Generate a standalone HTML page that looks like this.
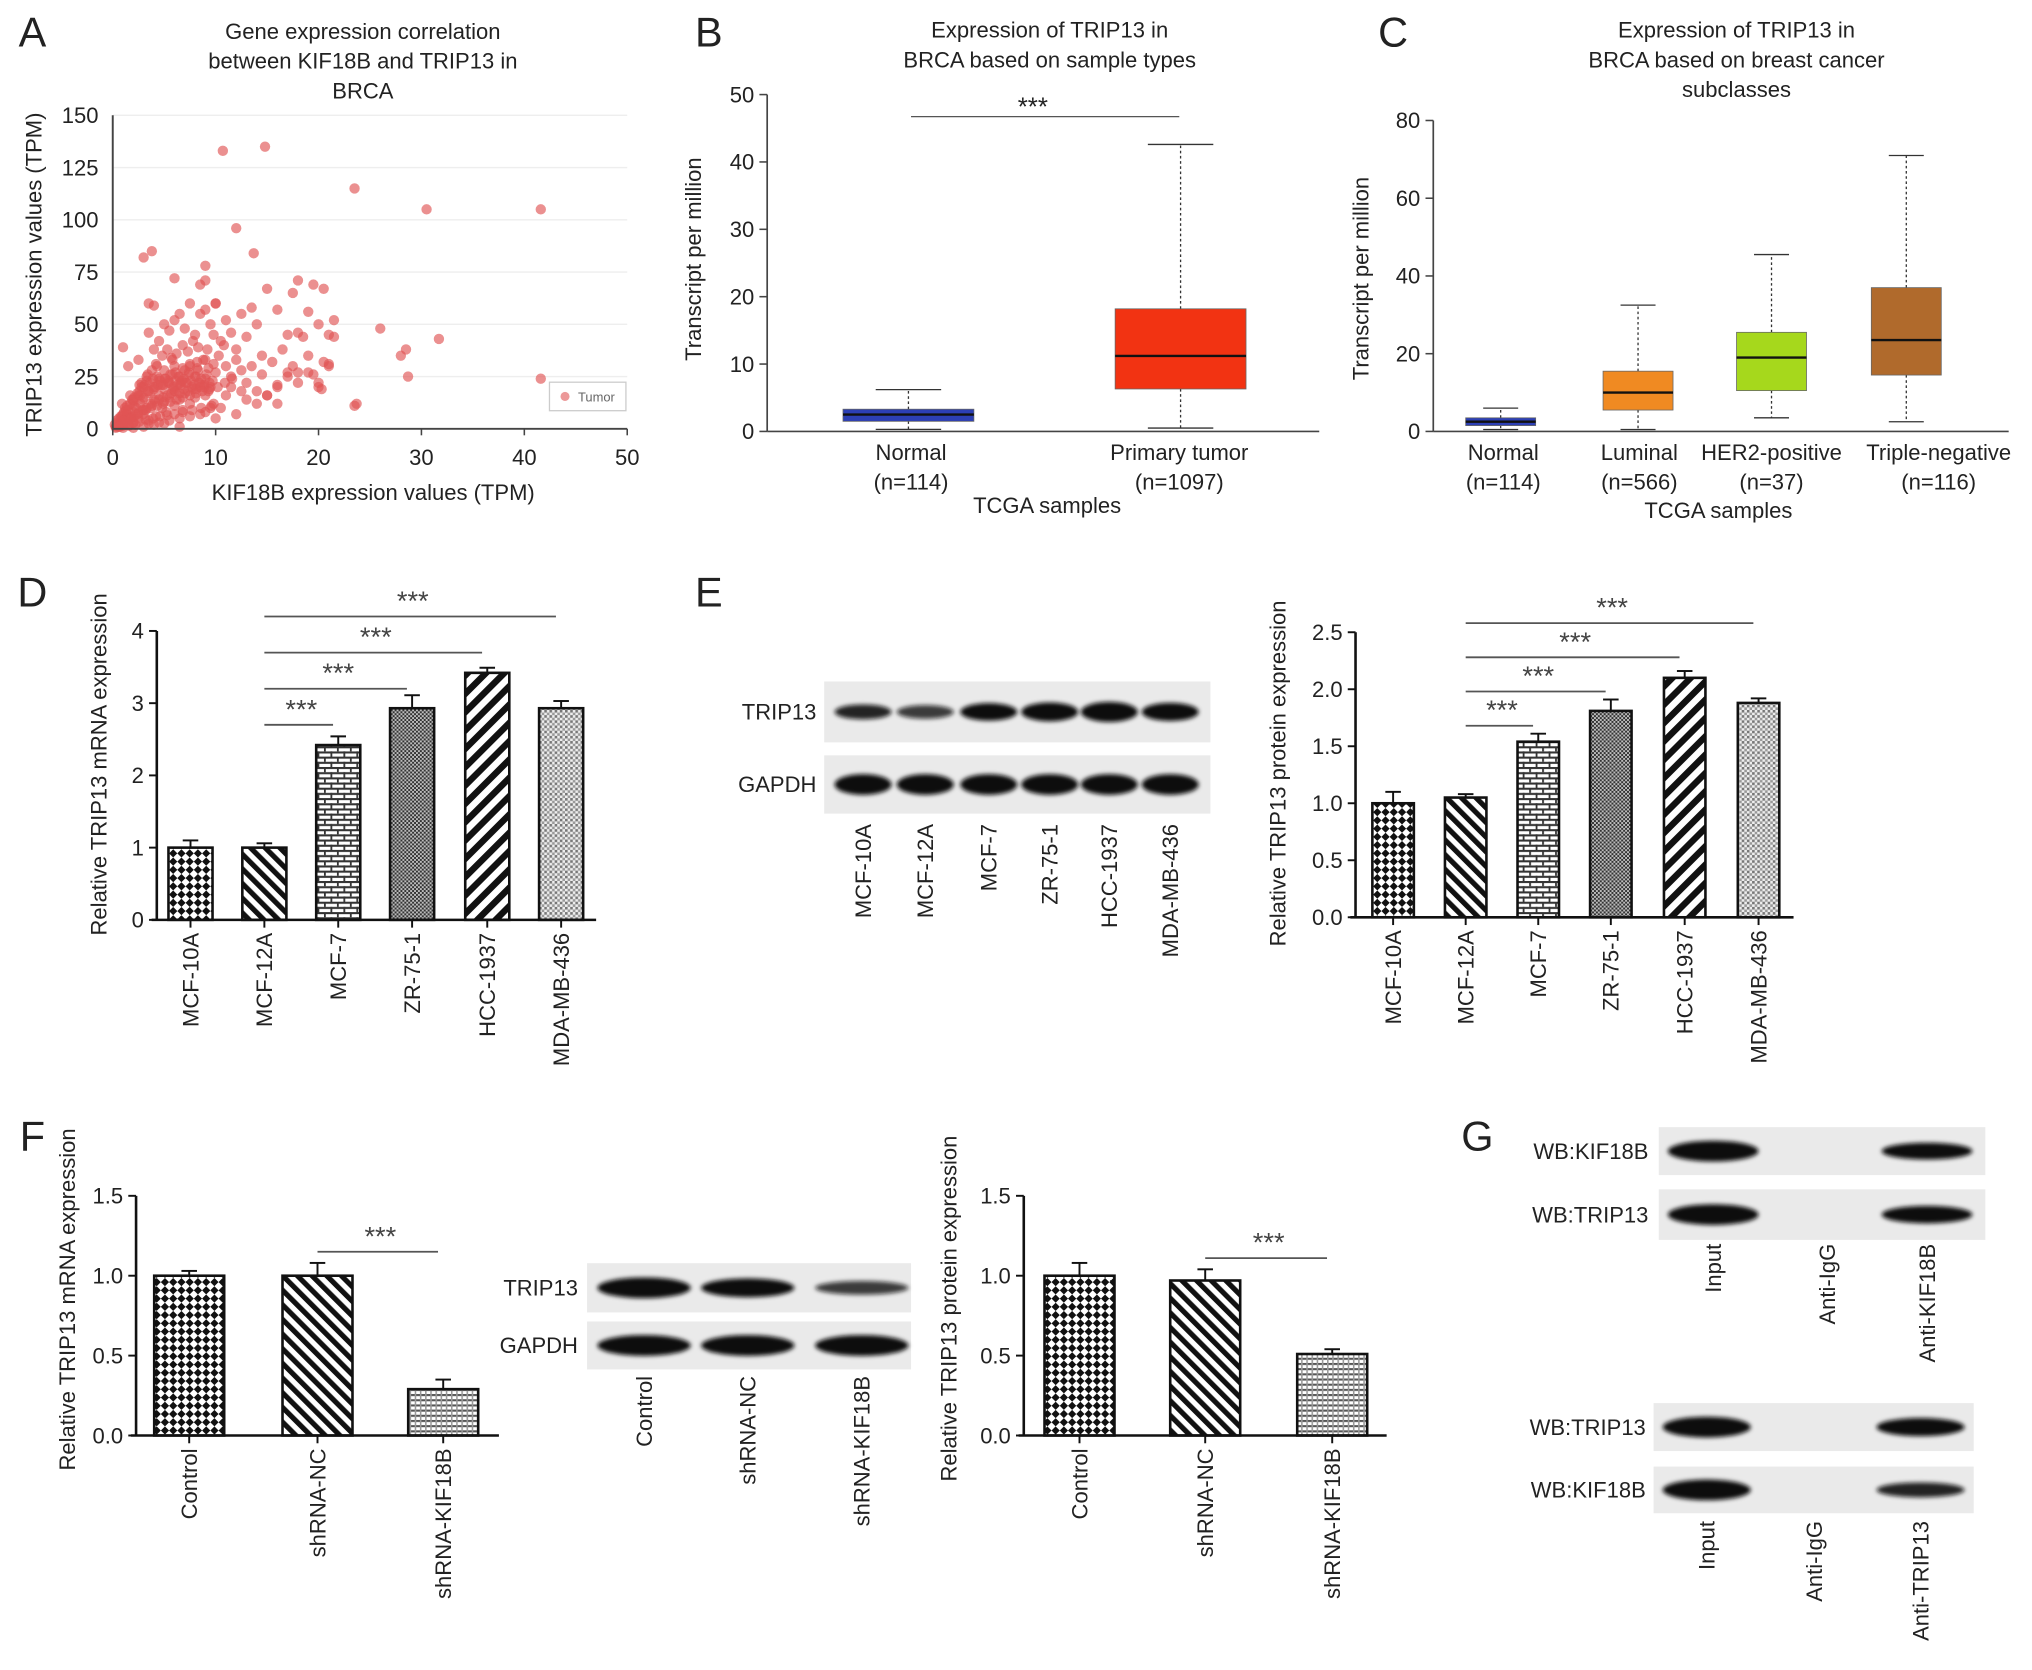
<!DOCTYPE html>
<html><head><meta charset="utf-8"><style>
html,body{margin:0;padding:0;background:#fff;}
svg{display:block;font-family:"Liberation Sans",Arial,sans-serif;}
</style></head><body>
<svg id="fig" width="2032" height="1670" viewBox="0 0 1568 1289" preserveAspectRatio="none" xmlns="http://www.w3.org/2000/svg">
<defs>
<pattern id="pChecker" width="9" height="9" patternUnits="userSpaceOnUse" patternTransform="rotate(45)"><rect width="9" height="9" fill="#fff"/><rect width="4.5" height="4.5" fill="#111"/><rect x="4.5" y="4.5" width="4.5" height="4.5" fill="#111"/></pattern>
<pattern id="pBack" width="8" height="8" patternUnits="userSpaceOnUse" patternTransform="rotate(-45)"><rect width="8" height="8" fill="#fff"/><rect width="4" height="8" fill="#111"/></pattern>
<pattern id="pBrick" width="10" height="8" patternUnits="userSpaceOnUse"><rect width="10" height="8" fill="#fff"/><rect y="0" width="10" height="1.6" fill="#333"/><rect y="4" width="10" height="1.6" fill="#333"/><rect x="0" y="0" width="1.4" height="4" fill="#333"/><rect x="5" y="4" width="1.4" height="4" fill="#333"/></pattern>
<pattern id="pFine" width="3" height="3" patternUnits="userSpaceOnUse"><rect width="3" height="3" fill="#bbb"/><rect width="1.5" height="1.5" fill="#333"/><rect x="1.5" y="1.5" width="1.5" height="1.5" fill="#333"/></pattern>
<pattern id="pWide" width="10" height="10" patternUnits="userSpaceOnUse" patternTransform="rotate(45)"><rect width="10" height="10" fill="#fff"/><rect width="5" height="10" fill="#111"/></pattern>
<pattern id="pDots" width="4" height="4" patternUnits="userSpaceOnUse"><rect width="4" height="4" fill="#eee"/><rect width="2" height="2" fill="#777"/><rect x="2" y="2" width="2" height="2" fill="#999"/></pattern>
<pattern id="pHoriz" width="4" height="4" patternUnits="userSpaceOnUse"><rect width="4" height="4" fill="#fff"/><rect width="4" height="1.6" fill="#555"/><rect width="1.2" height="4" fill="#999"/></pattern>
<filter id="blur" x="-20%" y="-50%" width="140%" height="200%"><feGaussianBlur stdDeviation="1.6"/></filter>
</defs>
</svg>
<script>
// ---------- data ----------
const scatterX = [0.3,0.5,0.8,1,1.2,1.5,1.8,2,2,2.3,2.5,2.7,3,3,3.2,3.5,3.5,3.8,4,4,4.2,4.5,4.5,4.8,5,5,5,5.2,5.5,5.5,5.8,6,6,6,6.3,6.5,6.5,6.8,7,7,7.2,7.5,7.5,7.8,8,8,8.3,8.5,8.8,9,9,9.3,9.5,9.8,10,1,1.5,2,2.5,3,1.2,0.8,0.4,0.6,1.6,2.2,3.5,4.5,5.5,6.5,7.5,8.5,2.8,3.3,3.8,4.2,4.8,5.3,5.8,6.2,6.8,7.3,7.8,8.3,9.2,9.8,10.3,10.8,11,11.5,12,12.5,13,13.5,14,14.5,15,15.5,16,16.5,17,17.5,18,18.5,19,19.5,20,20.5,21,21.5,1,1.5,2.5,3.5,4,4.5,5,5.5,6,6.5,7,7.5,8,8.5,9,9.5,10,10.5,11,11.5,12,12.5,13,13.5,14,14.5,15,16,17,17.5,18,18,19,19.5,20,20.5,21,21.5,3,3.8,3.5,4,6,8.5,9,9,10,12,13.7,10.7,14.8,23.5,30.5,41.6,26,31.7,28,28.5,28.7,41.6,23.7,23.5,12,6.5,15,16,16,17,18,19,20,21,20.3,10.5,11,11.5,12.5,13,14,9,9.5,10,3,4,5,2,1,0.7,1.4,2.1,2.9,3.6,4.4,5.1,5.9,6.7,7.4,8.2,0.9,1.7,2.6,3.4,4.3,5.7,6.6,
0.2,0.4,0.6,0.9,1.1,1.3,1.4,1.7,1.9,2.1,2.4,2.6,2.8,3.1,3.3,3.6,3.9,4.1,4.3,4.6,4.9,5.1,5.4,5.6,5.9,6.1,6.4,6.6,6.9,7.1,7.4,7.6,7.9,8.1,8.4,8.6,8.9,9.1,9.4,9.7,
0.5,0.9,1.3,1.7,2.1,2.5,2.9,3.3,3.7,4.1,4.5,4.9,5.3,5.7,6.1,6.5,6.9,7.3,7.7,8.1,8.5,8.9,9.3,
1.1,1.8,2.4,3.0,3.7,4.3,4.9,5.6,6.2,6.8,7.5,8.1,8.7,9.4,10.2,10.9,11.6,
0.3,0.7,1.0,1.5,2.0,2.6,3.2,3.9,4.6,5.3,6.0,6.8,7.7,8.6,9.6,
2.0,2.7,3.4,4.0,4.7,5.4,6.1,6.8,7.5,8.2,9.0,9.8];
const scatterY = [1,2,3,4,2,5,6,3,8,10,5,12,7,15,9,18,4,11,14,20,6,16,24,10,13,19,28,8,22,15,26,11,18,30,21,14,25,9,17,28,22,12,31,19,25,15,28,20,33,16,24,29,20,12,27,7,9,13,16,20,10,6,4,1,1.5,2,2.5,3,4,5,6,7,22,25,28,31,35,38,33,36,40,37,42,39,38,45,35,40,30,25,33,28,22,30,18,26,16,32,20,38,27,30,22,44,35,26,20,32,30,44,39,30,33,46,38,42,50,47,52,55,48,60,45,55,57,50,60,42,52,46,38,55,44,58,50,35,67,57,45,65,71,46,56,69,50,67,45,52,82,85,60,59,72,69,78,71,60,96,84,133,135,115,105,105,48,43,35,38,25,24,12,11,7,1,16,12,21,25,27,27,22,31,19,10,16,20,18,14,12,8,10,5,1,2,2.5,0.5,0.5,3,7,11,14,17,21,24,19,23,27,29,12,16,21,26,30,34,22,
2,3,5,6,8,9,11,12,14,15,17,18,20,21,23,22,24,20,25,23,21,24,22,26,20,23,25,21,24,22,26,23,21,25,22,24,21,26,22,23,
1,2.5,3.5,5,6,7.5,9,10,12,13,14,15,16,17,18,17,19,18,20,19,21,20,18,
4,5,7,9,10,11,12,13,14,15,16,17,18,19,20,22,24,
0.5,1,1.5,2,3,3.5,4.5,5,6,6.5,7,8,9,10,11,
14,16,18,19,21,23,27,29,30,32,33,31];

const bCats = ["Normal","Primary tumor"];
const bN = ["(n=114)","(n=1097)"];
const bMin = [0.3,0.5], bQ1 = [1.5,6.3], bMed = [2.5,11.2], bQ3 = [3.3,18.2], bMax = [6.2,42.6];
const bTicks = [0,10,20,30,40,50];

const cCats = ["Normal","Luminal","HER2-positive","Triple-negative"];
const cN = ["(n=114)","(n=566)","(n=37)","(n=116)"];
const cMin = [0.5,0.5,3.5,2.5], cQ1 = [1.5,5.5,10.5,14.5], cMed = [2.5,10,19,23.5], cQ3 = [3.5,15.5,25.5,37], cMax = [6,32.5,45.5,71];
const cTicks = [0,20,40,60,80];

const cells = ["MCF-10A","MCF-12A","MCF-7","ZR-75-1","HCC-1937","MDA-MB-436"];
const dVals = [1.0,1.0,2.42,2.93,3.42,2.93];
const dErr = [0.1,0.06,0.12,0.18,0.07,0.1];
const dTicks = [0,1,2,3,4];
const eVals = [1.0,1.05,1.54,1.81,2.1,1.88];
const eErr = [0.1,0.03,0.07,0.1,0.06,0.04];
const eTicks = ["0.0","0.5","1.0","1.5","2.0","2.5"];
const fCats = ["Control","shRNA-NC","shRNA-KIF18B"];
const f1Vals = [1.0,1.0,0.29], f1Err = [0.03,0.08,0.06];
const f2Vals = [1.0,0.97,0.51], f2Err = [0.08,0.07,0.03];
const fTicks = ["0.0","0.5","1.0","1.5"];
const eBandT = [0.55,0.45,0.75,0.85,0.95,0.8];
const fBandT = [1,0.85,0.45];

// ---------- helpers ----------
const NS="http://www.w3.org/2000/svg";
const svg=document.getElementById('fig');
function el(tag,attrs,name,parent){
  const e=document.createElementNS(NS,tag);
  for(const k in attrs) e.setAttribute(k,attrs[k]);
  
  
  (parent||svg).appendChild(e); return e;
}
function txt(x,y,s,size,anchor,name,rot,parent,fill){
  const t=el('text',{x:x,y:y,'font-size':size,'text-anchor':anchor||'middle',fill:fill||'#222'},name,parent);
  if(rot) t.setAttribute('transform','rotate('+rot+' '+x+' '+y+')');
  t.textContent=s; return t;
}
function line(x1,y1,x2,y2,name,w,col,dash,parent){
  const l=el('line',{x1:x1,y1:y1,x2:x2,y2:y2,stroke:col||'#111','stroke-width':w||1.5},name,parent);
  if(dash) l.setAttribute('stroke-dasharray',dash); return l;
}
function lin(d0,d1,r0,r1){return v=>r0+(v-d0)/(d1-d0)*(r1-r0);}

// panel letters
[["A",25,36],["B",547,36],["C",1075,36],["D",25,468],["E",547,468],["F",25,888],["G",1140,888]].forEach(p=>{
  txt(p[1],p[2],p[0],32,'middle','panel-label-'+p[0].toLowerCase());
});

// ---------- Panel A ----------
(function(){
  const g=el('g',{},'panel-a-scatter');
  const x=lin(0,50,87,484), y=lin(0,150,331,89);
  [25,50,75,100,125,150].forEach(v=>line(87,y(v),484,y(v),'grid-line',1,'#eee',null,g));
  scatterX.forEach((vx,i)=>{
    el('circle',{cx:x(vx),cy:y(scatterY[i]),r:4,fill:'#e05555','fill-opacity':0.65},'scatter-point',g);
  });
  line(87,89,87,331,'y-axis',1.5,'#444',null,g);
  line(87,331,484,331,'x-axis',1.5,'#444',null,g);
  [0,10,20,30,40,50].forEach(v=>{line(x(v),331,x(v),336,'x-tick',1.2,'#444',null,g);txt(x(v),359,String(v),17,'middle','x-tick-label',0,g);});
  [0,25,50,75,100,125,150].forEach(v=>txt(76,y(v)+6,String(v),17,'end','y-tick-label',0,g));
  txt(288,386,'KIF18B expression values (TPM)',17,'middle','x-axis-title',0,g);
  txt(32,212,'TRIP13 expression values (TPM)',17,'middle','y-axis-title',-90,g);
  ['Gene expression correlation','between KIF18B and TRIP13 in','BRCA'].forEach((s,i)=>txt(280,30+i*23,s,17,'middle','chart-title',0,g));
  el('rect',{x:424,y:295,width:59,height:22,fill:'#fff',stroke:'#ccc'},'legend-box',g);
  el('circle',{cx:436,cy:306,r:3.5,fill:'#e05555','fill-opacity':0.6},'legend-marker',g);
  txt(446,310,'Tumor',10,'start','legend-entry',0,g,'#666');
})();

// ---------- Box plots ----------
function boxPanel(o){
  const g=el('g',{},o.name);
  const y=lin(0,o.ymax,o.y0,o.ytop);
  line(o.ax,o.ytop,o.ax,o.y0,'y-axis',1.3,'#444',null,g);
  line(o.ax,o.y0,o.xend,o.y0,'x-axis',1.3,'#444',null,g);
  o.ticks.forEach(v=>{line(o.ax-6,y(v),o.ax,y(v),'y-tick',1.2,'#444',null,g);txt(o.ax-10,y(v)+6,String(v),17,'end','y-tick-label',0,g);});
  o.cats.forEach((c,i)=>{
    const cx=o.cx[i], w=o.bw;
    line(cx,y(o.q3[i]),cx,y(o.max[i]),'whisker',1,'#333','2,2',g);
    line(cx,y(o.q1[i]),cx,y(o.min[i]),'whisker',1,'#333','2,2',g);
    line(cx-w/4,y(o.max[i]),cx+w/4,y(o.max[i]),'whisker-cap',1,'#333',null,g);
    line(cx-w/4,y(o.min[i]),cx+w/4,y(o.min[i]),'whisker-cap',1,'#333',null,g);
    el('rect',{x:cx-w/2,y:y(o.q3[i]),width:w,height:y(o.q1[i])-y(o.q3[i]),fill:o.colors[i],stroke:'#666','stroke-width':0.6},'box-'+c.toLowerCase().replace(/\s+/g,'-'),g);
    line(cx-w/2,y(o.med[i]),cx+w/2,y(o.med[i]),'median-line',1.8,'#111',null,g);
    txt(o.lx[i],o.y0+22,c,17,'middle','x-category-label',0,g);
    txt(o.lx[i],o.y0+45,o.n[i],17,'middle','sample-size-label',0,g);
  });
  txt(o.xtx,o.xty,'TCGA samples',17,'middle','x-axis-title',0,g);
  txt(o.ytx,o.yty,'Transcript per million',17,'middle','y-axis-title',-90,g);
  o.title.forEach((s,i)=>txt(o.tx,29+i*23,s,17,'middle','chart-title',0,g));
  return {g:g,y:y};
}
(function(){
  const r=boxPanel({name:'panel-b-boxplot',ax:592,y0:333,ytop:73,ymax:50,xend:1018,ticks:bTicks,cats:bCats,n:bN,
    cx:[701,911],lx:[703,910],bw:101,q1:bQ1,q3:bQ3,med:bMed,min:bMin,max:bMax,colors:['#2c3fb5','#f23312'],
    xtx:808,xty:396,ytx:541,yty:200,tx:810,title:['Expression of TRIP13 in','BRCA based on sample types']});
  line(703,90,910,90,'significance-line',1,'#555',null,r.g);
  txt(797,89,'***',20,'middle','significance-stars',0,r.g);
})();
boxPanel({name:'panel-c-boxplot',ax:1106,y0:333,ytop:93,ymax:80,xend:1550,ticks:cTicks,cats:cCats,n:cN,
  cx:[1158,1264,1367,1471],lx:[1160,1265,1367,1496],bw:54,q1:cQ1,q3:cQ3,med:cMed,min:cMin,max:cMax,
  colors:['#2c3fb5','#f08a22','#a6d81c','#b06a2c'],xtx:1326,xty:400,ytx:1056,yty:215,tx:1340,
  title:['Expression of TRIP13 in','BRCA based on breast cancer','subclasses']});

// ---------- Bar charts ----------
function barPanel(o){
  const g=el('g',{},o.name);
  const y=lin(0,o.ymax,o.y0,o.ytop);
  o.cats.forEach((c,i)=>{
    const cx=o.cx[i], v=o.vals[i], e=o.err[i];
    line(cx,y(v),cx,y(v+e),'error-bar',1.5,'#111',null,g);
    line(cx-6,y(v+e),cx+6,y(v+e),'error-cap',1.5,'#111',null,g);
    el('rect',{x:cx-o.bw/2,y:y(v),width:o.bw,height:o.y0-y(v),fill:'url(#'+o.pats[i]+')',stroke:'#111','stroke-width':2},'bar-'+c.toLowerCase(),g);
    line(cx,o.y0,cx,o.y0+6,'x-tick',1.5,'#111',null,g);
    txt(cx+6,o.y0+10,c,17,'end','x-category-label',-90,g);
  });
  line(o.ax,o.ytop,o.ax,o.y0,'y-axis',2,'#111',null,g);
  line(o.ax-4,o.y0,o.xend,o.y0,'x-axis',2,'#111',null,g);
  o.ticks.forEach(t=>{const v=parseFloat(t);line(o.ax-6,y(v),o.ax,y(v),'y-tick',1.5,'#111',null,g);txt(o.ax-10,y(v)+6,String(t),17,'end','y-tick-label',0,g);});
  txt(o.ytx,o.yty,o.ytitle,17,'middle','y-axis-title',-90,g);
  o.sig.forEach(s=>{
    line(o.cx[s[0]],y(s[1]),o.cx[s[2]]-4,y(s[1]),'significance-line',1.4,'#555',null,g);
    txt((o.cx[s[0]]+o.cx[s[2]])/2,y(s[1])-5,'***',21,'middle','significance-stars',0,g,'#444');
  });
}
barPanel({name:'panel-d-bar-chart',ax:121,y0:710,ytop:487,ymax:4,xend:460,cats:cells,vals:dVals,err:dErr,ticks:dTicks,
  cx:[147,204,261,318,376,433],bw:34,pats:['pChecker','pBack','pBrick','pFine','pWide','pDots'],
  ytx:82,yty:590,ytitle:'Relative TRIP13 mRNA expression',sig:[[1,2.7,2],[1,3.2,3],[1,3.7,4],[1,4.2,5]]});
barPanel({name:'panel-e-bar-chart',ax:1046,y0:708,ytop:488,ymax:2.5,xend:1384,cats:cells,vals:eVals,err:eErr,ticks:eTicks,
  cx:[1075,1131,1187,1243,1300,1357],bw:32,pats:['pChecker','pBack','pBrick','pFine','pWide','pDots'],
  ytx:992,yty:597,ytitle:'Relative TRIP13 protein expression',sig:[[1,1.68,2],[1,1.98,3],[1,2.28,4],[1,2.58,5]]});
barPanel({name:'panel-f-mrna-bar-chart',ax:105,y0:1108,ytop:923,ymax:1.5,xend:385,cats:fCats,vals:f1Vals,err:f1Err,ticks:fTicks,
  cx:[146,245,342],bw:54,pats:['pChecker','pBack','pHoriz'],
  ytx:58,yty:1003,ytitle:'Relative TRIP13 mRNA expression',sig:[[1,1.15,2]]});
barPanel({name:'panel-f-protein-bar-chart',ax:790,y0:1108,ytop:923,ymax:1.5,xend:1070,cats:fCats,vals:f2Vals,err:f2Err,ticks:fTicks,
  cx:[833,930,1028],bw:54,pats:['pChecker','pBack','pHoriz'],
  ytx:738,yty:1010,ytitle:'Relative TRIP13 protein expression',sig:[[1,1.11,2]]});

// ---------- Western blots ----------
function blot(o){
  const g=el('g',{},o.name);
  o.rows.forEach((r,ri)=>{
    el('rect',{x:o.x0,y:r.y,width:o.x1-o.x0,height:r.h,fill:'#eaeaea'},'blot-membrane',g);
    txt(o.lx,r.y+r.h/2+6,r.label,17,o.lanchor||'end','blot-row-label',0,g);
    o.lanes.forEach((cx,i)=>{
      const t=r.t[i]; if(t<=0.05) return;
      el('ellipse',{cx:cx,cy:r.y+r.h/2,rx:o.bw/2,ry:3+5*t,fill:'#111','fill-opacity':Math.min(1,0.35+t),filter:'url(#blur)'},'protein-band',g);
    });
  });
  o.laneLabels.forEach((s,i)=>txt(o.lanes[i]+6,o.laneY,s,17,'end','lane-label',-90,g));
}
blot({name:'panel-e-western-blot',x0:636,x1:934,lx:630,lanes:[666,714,763,810,856,903],bw:44,laneY:636,laneLabels:cells,
  rows:[{y:526,h:47,label:'TRIP13',t:eBandT},{y:583,h:45,label:'GAPDH',t:[1,1,1,1,1,1]}]});
blot({name:'panel-f-western-blot',x0:453,x1:703,lx:446,lanes:[497,577,665],bw:72,laneY:1062,laneLabels:fCats,
  rows:[{y:975,h:38,label:'TRIP13',t:fBandT},{y:1020,h:37,label:'GAPDH',t:[1,1,1]}]});
blot({name:'panel-g-coip-kif18b',x0:1280,x1:1532,lx:1272,lanes:[1322,1410,1487],bw:70,laneY:960,laneLabels:['Input','Anti-IgG','Anti-KIF18B'],
  rows:[{y:870,h:37,label:'WB:KIF18B',t:[1,0,0.7]},{y:918,h:39,label:'WB:TRIP13',t:[1,0,0.75]}]});
blot({name:'panel-g-coip-trip13',x0:1276,x1:1523,lx:1270,lanes:[1317,1400,1482],bw:68,laneY:1174,laneLabels:['Input','Anti-IgG','Anti-TRIP13'],
  rows:[{y:1083,h:37,label:'WB:TRIP13',t:[1,0,0.8]},{y:1132,h:36,label:'WB:KIF18B',t:[1,0,0.55]}]});
</script>
</body></html>
